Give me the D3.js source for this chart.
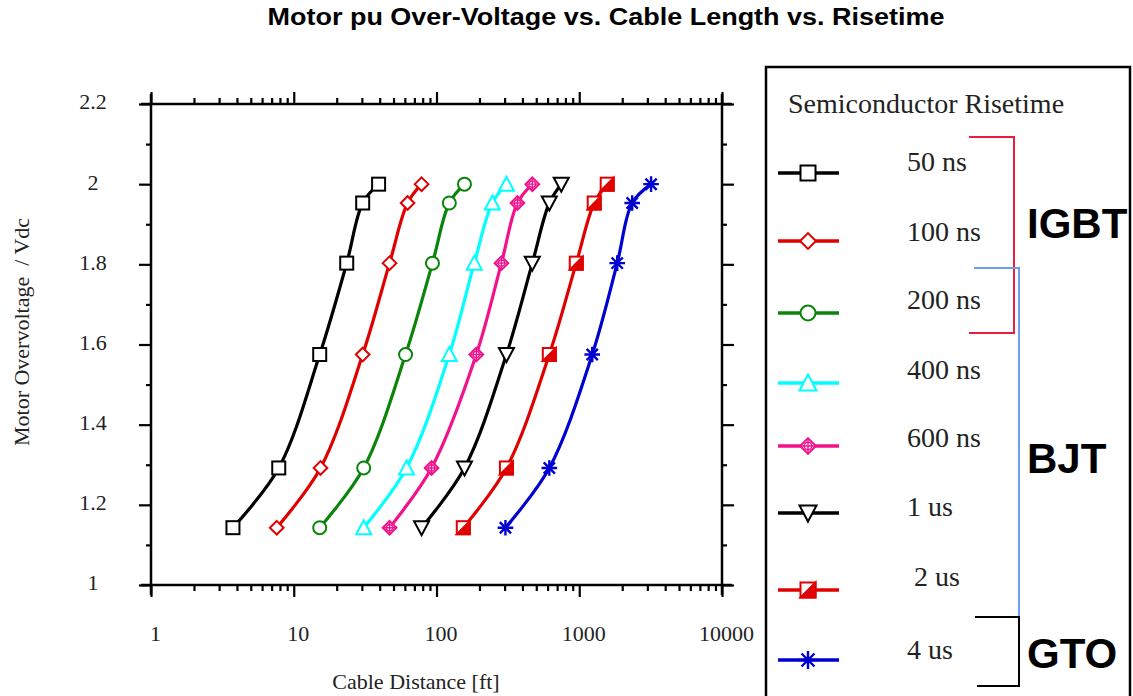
<!DOCTYPE html>
<html>
<head>
<meta charset="utf-8">
<script src="https://cdn.jsdelivr.net/npm/d3@7"></script>
<style>
  html, body { margin: 0; padding: 0; background: #fff; }
  svg { display: block; }
</style>
</head>
<body>
<svg id="chart" width="1133" height="696"></svg>
<script>
// ---------------- DATA ----------------
const overvoltage = [1.143, 1.292, 1.575, 1.803, 1.953, 2.0];
const seriesLabels = ["50 ns", "100 ns", "200 ns", "400 ns", "600 ns", "1 us", "2 us", "4 us"];
const dist50ns  = [3.75, 7.85, 15.2, 23.5, 30.4, 39.3];
const dist100ns = [7.6, 15.4, 30.4, 46.9, 62.7, 78.6];
const dist200ns = [15.2, 30.9, 60.7, 93.7, 123, 157];
const dist400ns = [30.9, 61.7, 123, 184, 246, 309];
const dist600ns = [46.9, 92.3, 190, 285, 369, 469];
const dist1us   = [78.6, 157, 309, 469, 617, 748];
const dist2us   = [154, 309, 617, 953, 1273, 1570];
const dist4us   = [304, 617, 1233, 1845, 2349, 3185];
const xTickValues = [1, 10, 100, 1000, 10000];
const yTickValues = [1, 1.2, 1.4, 1.6, 1.8, 2, 2.2];
const groupLabels = ["IGBT", "BJT", "GTO"];

// ---------------- STYLE ----------------
const seriesDist = [dist50ns, dist100ns, dist200ns, dist400ns, dist600ns, dist1us, dist2us, dist4us];
const colors = ["#000000", "#e00000", "#0a840a", "#00ffff", "#f0138c", "#000000", "#e00000", "#0000d0"];
const shapes = ["square", "diamond", "circle", "triUp", "crossDiamond", "triDown", "halfSquare", "star"];

const svg = d3.select("#chart");
svg.append("rect").attr("width", 1133).attr("height", 696).attr("fill", "#fff");

const L = 151, R = 722, T = 104, B = 585;
const x = d3.scaleLog().domain([1, 10000]).range([L, R]);
const y = d3.scaleLinear().domain([1, 2.2]).range([B, T]);

const serif = "'Liberation Serif', 'Times New Roman', serif";
const sans = "'Liberation Sans', Arial, sans-serif";

// Title
svg.append("text")
  .attr("x", 606).attr("y", 25)
  .attr("text-anchor", "middle")
  .attr("font-family", "'Liberation Sans Narrow', 'Arial Narrow', " + sans)
  .attr("font-weight", "bold").attr("font-size", 23)
  .attr("textLength", 677).attr("lengthAdjust", "spacingAndGlyphs")
  .text("Motor pu Over-Voltage vs. Cable Length vs. Risetime");

// Minor ticks
const xMinor = [];
for (let d = 1; d < 10000; d *= 10) for (let k = 2; k <= 9; k++) xMinor.push(d * k);
const yMinor = d3.range(1.1, 2.2, 0.2);

function styleAxis(g) {
  g.select(".domain").remove();
  g.selectAll("line").attr("stroke", "#000").attr("stroke-width", 2.2);
}

// Bottom
svg.append("g").attr("transform", `translate(0,${B})`)
  .call(d3.axisBottom(x).tickValues(xTickValues).tickSize(12).tickFormat(d3.format("d")))
  .call(styleAxis)
  .call(g => g.selectAll("text").attr("font-family", serif).attr("font-size", 22)
    .attr("fill", "#222").attr("dy", "0").attr("y", 56).attr("dx", 4));
svg.append("g").attr("transform", `translate(0,${B})`)
  .call(d3.axisBottom(x).tickValues(xMinor).tickSize(6).tickFormat(""))
  .call(styleAxis);
// Top
svg.append("g").attr("transform", `translate(0,${T})`)
  .call(d3.axisTop(x).tickValues(xTickValues).tickSize(12).tickFormat(""))
  .call(styleAxis);
svg.append("g").attr("transform", `translate(0,${T})`)
  .call(d3.axisTop(x).tickValues(xMinor).tickSize(6).tickFormat(""))
  .call(styleAxis);
// Left
svg.append("g").attr("transform", `translate(${L},0)`)
  .call(d3.axisLeft(y).tickValues(yTickValues).tickSize(12).tickFormat(d => d3.format("")(d)))
  .call(styleAxis)
  .call(g => g.selectAll("text").attr("font-family", serif).attr("font-size", 22)
    .attr("fill", "#222").attr("text-anchor", "middle").attr("x", -58).attr("dy", "0.22em"));
svg.append("g").attr("transform", `translate(${L},0)`)
  .call(d3.axisLeft(y).tickValues(yMinor).tickSize(5).tickFormat(""))
  .call(styleAxis);
// Right
svg.append("g").attr("transform", `translate(${R},0)`)
  .call(d3.axisRight(y).tickValues(yTickValues).tickSize(12).tickFormat(""))
  .call(styleAxis);
svg.append("g").attr("transform", `translate(${R},0)`)
  .call(d3.axisRight(y).tickValues(yMinor).tickSize(5).tickFormat(""))
  .call(styleAxis);

// Frame lines (extend slightly beyond corners)
const ext = 10;
const frame = svg.append("g").attr("stroke", "#000").attr("stroke-width", 2.5);
frame.append("line").attr("x1", L - ext).attr("x2", R + ext).attr("y1", T).attr("y2", T);
frame.append("line").attr("x1", L - ext).attr("x2", R + ext).attr("y1", B).attr("y2", B);
frame.append("line").attr("x1", L).attr("x2", L).attr("y1", T - ext).attr("y2", B + ext);
frame.append("line").attr("x1", R).attr("x2", R).attr("y1", T - ext).attr("y2", B + ext);

// Axis titles
svg.append("text").attr("transform", "translate(29,332) rotate(-90)")
  .attr("text-anchor", "middle").attr("font-family", serif).attr("font-size", 22).attr("fill", "#222")
  .attr("xml:space", "preserve")
  .text("Motor Overvoltage  / Vdc");
svg.append("text").attr("x", 416).attr("y", 689)
  .attr("text-anchor", "middle").attr("font-family", serif).attr("font-size", 22).attr("fill", "#222")
  .text("Cable Distance [ft]");

// Marker drawing
function drawMarker(g, shape, color, cx, cy, s) {
  const h = s / 2;
  const m = g.append("g").attr("transform", `translate(${cx},${cy})`)
    .attr("stroke", color).attr("stroke-width", 2).attr("fill", "#fff");
  if (shape === "square") {
    m.append("rect").attr("x", -h).attr("y", -h).attr("width", s).attr("height", s);
  } else if (shape === "diamond") {
    const d = h * 1.05;
    m.append("path").attr("d", `M0,${-d}L${d},0L0,${d}L${-d},0Z`);
  } else if (shape === "circle") {
    m.append("circle").attr("r", h);
  } else if (shape === "triUp") {
    m.append("path").attr("d", `M0,${-h - 1}L${h + 1},${h}L${-h - 1},${h}Z`);
  } else if (shape === "triDown") {
    m.append("path").attr("d", `M0,${h + 1}L${h + 1},${-h}L${-h - 1},${-h}Z`);
  } else if (shape === "crossDiamond") {
    const d = h * 1.05;
    m.append("path").attr("d", `M0,${-d}L${d},0L0,${d}L${-d},0Z`);
    m.append("circle").attr("r", h * 0.5).attr("stroke-width", 1.4);
    m.append("path").attr("d", `M0,${-d}V${d}M${-d},0H${d}`).attr("stroke-width", 1.4);
  } else if (shape === "halfSquare") {
    m.append("rect").attr("x", -h).attr("y", -h).attr("width", s).attr("height", s);
    m.append("path").attr("d", `M${h},${-h}L${h},${h}L${-h},${h}Z`).attr("fill", color);
  } else if (shape === "star") {
    const a = h * 1.2, dg = a * 0.72;
    m.append("path").attr("stroke-width", 2.4)
      .attr("d", `M0,${-a}V${a}M${-a},0H${a}M${-dg},${-dg}L${dg},${dg}M${-dg},${dg}L${dg},${-dg}`);
  }
  return m;
}

// Curves
const line = d3.line().x(d => x(d[0])).y(d => y(d[1])).curve(d3.curveCatmullRom.alpha(0.5));
const plot = svg.append("g");
seriesDist.forEach((dist, i) => {
  const pts = dist.map((v, j) => [v, overvoltage[j]]);
  plot.append("path").datum(pts).attr("d", line)
    .attr("fill", "none").attr("stroke", colors[i]).attr("stroke-width", 3.2);
});
seriesDist.forEach((dist, i) => {
  dist.forEach((v, j) => drawMarker(plot, shapes[i], colors[i], x(v), y(overvoltage[j]), 13));
});

// Legend box
svg.append("rect").attr("x", 766).attr("y", 67).attr("width", 364).attr("height", 640)
  .attr("fill", "none").attr("stroke", "#000").attr("stroke-width", 2.5);
svg.append("text").attr("x", 788).attr("y", 113)
  .attr("font-family", serif).attr("font-size", 28).attr("fill", "#222")
  .text("Semiconductor Risetime");

const legendY = [173, 241, 313, 383, 446, 513, 590, 660];
const labelY = [171, 241, 309, 379, 447, 516, 586, 659];
const labelX = [907, 907, 907, 907, 907, 907, 914, 907];
const lg = svg.append("g");
seriesLabels.forEach((lab, i) => {
  lg.append("line").attr("x1", 778).attr("x2", 839).attr("y1", legendY[i]).attr("y2", legendY[i])
    .attr("stroke", colors[i]).attr("stroke-width", 3.5);
  drawMarker(lg, shapes[i], colors[i], 808, legendY[i], 15);
  lg.append("text").attr("x", labelX[i]).attr("y", labelY[i])
    .attr("font-family", serif).attr("font-size", 28).attr("fill", "#222").text(lab);
});

// Group brackets
svg.append("path").attr("d", "M969,137H1014V333H969").attr("fill", "none")
  .attr("stroke", "#ec1c3c").attr("stroke-width", 2);
svg.append("path").attr("d", "M974,268H1019V617").attr("fill", "none")
  .attr("stroke", "#6d9cf2").attr("stroke-width", 2);
svg.append("path").attr("d", "M975,617H1019V686H977").attr("fill", "none")
  .attr("stroke", "#000").attr("stroke-width", 2);

const groupY = [238, 473, 668];
groupLabels.forEach((g, i) => {
  svg.append("text").attr("x", 1027).attr("y", groupY[i])
    .attr("font-family", sans).attr("font-weight", "bold").attr("font-size", 42).attr("fill", "#000")
    .text(g);
});
</script>
</body>
</html>
